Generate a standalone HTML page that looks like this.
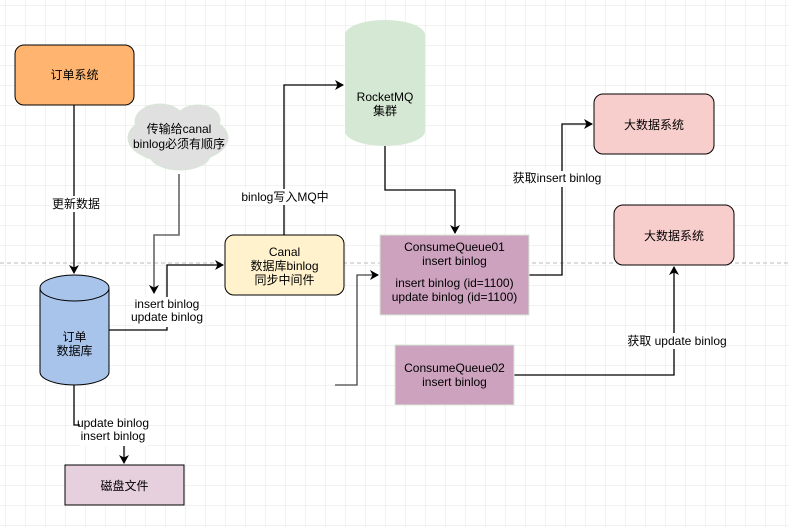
<!DOCTYPE html>
<html><head><meta charset="utf-8"><style>
body{margin:0;width:789px;height:527px;overflow:hidden;background:#fff;}
svg text{font-family:"Liberation Sans","Noto Sans CJK SC",sans-serif;font-size:12px;fill:#000;}
</style></head><body>
<svg width="789" height="527" xmlns="http://www.w3.org/2000/svg">
<defs>
<pattern id="g" x="5" y="5" width="20" height="20" patternUnits="userSpaceOnUse"><path d="M20 0H0V20" fill="none" stroke="#e6e6e6" stroke-width="1"/></pattern>
<marker id="a" markerWidth="10" markerHeight="10" refX="8" refY="5" orient="auto" markerUnits="userSpaceOnUse"><path d="M0,0L9,5L0,10L2.5,5z" fill="#000"/></marker>
</defs>
<rect width="789" height="527" fill="url(#g)"/>
<line x1="0" y1="263" x2="789" y2="263" stroke="#bbb" stroke-dasharray="4,3"/>
<g fill="none" stroke="#000" stroke-width="1.3">
<path d="M74 105V273" marker-end="url(#a)"/>
<path d="M179 174V235H154V293" stroke="#666" stroke-width="1.6" marker-end="url(#a)"/>
<path d="M109 330H167V265H223" marker-end="url(#a)"/>
<path d="M284 235V85H343" marker-end="url(#a)"/>
<path d="M385 146V190H455V233" marker-end="url(#a)"/>
<path d="M335 385H357V275H378" stroke="#444" marker-end="url(#a)"/>
<path d="M529 275H562V124H592" marker-end="url(#a)"/>
<path d="M514 375H674V267" marker-end="url(#a)"/>
<path d="M74 385V425H124V463" marker-end="url(#a)"/>
</g>
<rect x="15" y="45" width="119" height="60" rx="9" fill="#FFB570" stroke="#000"/>
<text x="74.5" y="79" text-anchor="middle">订单系统</text>
<g fill="#e0e0e0" stroke="#d5e8d4">
<ellipse cx="178" cy="138" rx="50" ry="25"/>
<ellipse cx="160" cy="122" rx="25" ry="18"/>
<ellipse cx="198" cy="120" rx="22" ry="15"/>
<ellipse cx="180" cy="155" rx="30" ry="15"/>
</g>
<ellipse cx="178" cy="138" rx="48" ry="23" fill="#e0e0e0"/>
<ellipse cx="160" cy="122" rx="23" ry="16" fill="#e0e0e0"/>
<ellipse cx="198" cy="120" rx="20" ry="13" fill="#e0e0e0"/>
<ellipse cx="180" cy="155" rx="28" ry="13" fill="#e0e0e0"/>
<text x="179" y="133" text-anchor="middle">传输给canal</text>
<text x="179" y="148" text-anchor="middle">binlog必须有顺序</text>
<path d="M40 288V372A34.5 13 0 0 0 109 372V288A34.5 13 0 0 0 40 288z" fill="#A9C4EB" stroke="#000"/>
<path d="M40 288A34.5 13 0 0 0 109 288" fill="none" stroke="#000"/>
<text x="74.5" y="341" text-anchor="middle">订单</text>
<text x="74.5" y="355" text-anchor="middle">数据库</text>
<rect x="65" y="465" width="119" height="40" fill="#E6D0DE" stroke="#000"/>
<text x="124.5" y="490" text-anchor="middle">磁盘文件</text>
<rect x="225" y="235" width="119" height="60" rx="9" fill="#FFF2CC" stroke="#000"/>
<text x="284.5" y="256" text-anchor="middle">Canal</text>
<text x="284.5" y="270" text-anchor="middle">数据库binlog</text>
<text x="284.5" y="284" text-anchor="middle">同步中间件</text>
<path d="M345 35V131A40 15 0 0 0 425 131V35A40 15 0 0 0 345 35z" fill="#D5E8D4"/>
<text x="385" y="101" text-anchor="middle">RocketMQ</text>
<text x="385" y="115" text-anchor="middle">集群</text>
<rect x="380" y="235" width="149" height="80" fill="#CDA2BE" stroke="#d5e8d4"/>
<text x="454.5" y="251" text-anchor="middle">ConsumeQueue01</text>
<text x="454.5" y="265" text-anchor="middle">insert binlog</text>
<text x="454.5" y="287" text-anchor="middle">insert binlog (id=1100)</text>
<text x="454.5" y="301" text-anchor="middle">update binlog (id=1100)</text>
<rect x="395" y="345" width="119" height="60" fill="#CDA2BE" stroke="#d5e8d4"/>
<text x="454.5" y="372" text-anchor="middle">ConsumeQueue02</text>
<text x="454.5" y="386" text-anchor="middle">insert binlog</text>
<rect x="594" y="94" width="120" height="60" rx="9" fill="#F8CECC" stroke="#000"/>
<text x="654" y="129" text-anchor="middle">大数据系统</text>
<rect x="614" y="205" width="120" height="60" rx="9" fill="#F8CECC" stroke="#000"/>
<text x="674" y="240" text-anchor="middle">大数据系统</text>
<g>
<rect x="52" y="196" width="48" height="16" fill="#fff"/>
<text x="76" y="208" text-anchor="middle">更新数据</text>
<rect x="133" y="297" width="68" height="30" fill="#fff"/>
<text x="167" y="308" text-anchor="middle" font-size="11">insert binlog</text>
<text x="167" y="321" text-anchor="middle" font-size="11">update binlog</text>
<rect x="244" y="189" width="82" height="16" fill="#fff"/>
<text x="285" y="201" text-anchor="middle" font-size="11">binlog写入MQ中</text>
<rect x="513" y="171" width="88" height="16" fill="#fff"/>
<text x="557" y="182" text-anchor="middle" font-size="11">获取insert binlog</text>
<rect x="630" y="333" width="94" height="16" fill="#fff"/>
<text x="677" y="345" text-anchor="middle" font-size="11">获取 update binlog</text>
<rect x="80" y="416" width="68" height="30" fill="#fff"/>
<text x="113" y="427" text-anchor="middle" font-size="11">update binlog</text>
<text x="113" y="440" text-anchor="middle" font-size="11">insert binlog</text>
</g>
</svg>
</body></html>
